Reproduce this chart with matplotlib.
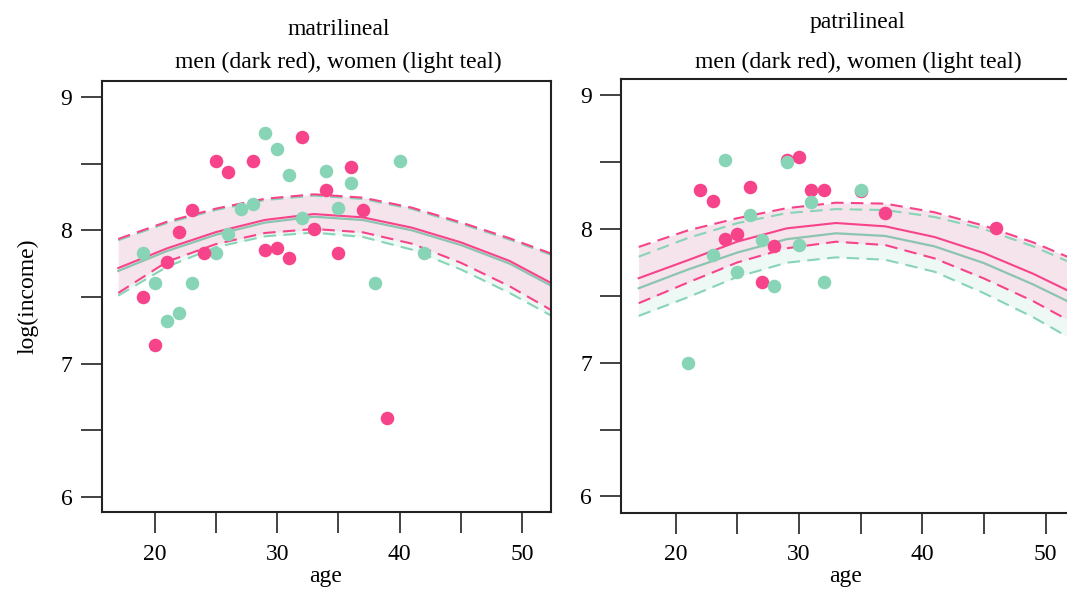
import matplotlib
matplotlib.use("Agg")
import matplotlib.pyplot as plt

plt.rcParams['font.family'] = ['Liberation Serif', 'DejaVu Serif']

# ---------------- data ----------------
# matrilineal: observed points
mat_men_age = [19, 20, 21, 22, 23, 24, 25, 26, 28, 29, 30, 31, 32, 33, 34, 35, 36, 37, 39]
mat_men_inc = [7.50, 7.14, 7.765, 7.99, 8.155, 7.83, 8.52, 8.44, 8.52, 7.855, 7.87, 7.79,
               8.70, 8.012, 8.305, 7.83, 8.472, 8.155, 6.59]
mat_wom_age = [19, 20, 21, 22, 23, 25, 26, 27, 28, 29, 30, 31, 32, 34, 35, 36, 38, 40, 42]
mat_wom_inc = [7.83, 7.607, 7.317, 7.382, 7.607, 7.83, 7.975, 8.162, 8.195, 8.732, 8.612,
               8.412, 8.092, 8.447, 8.165, 8.355, 7.607, 8.52, 7.83]

# patrilineal: observed points
pat_men_age = [22, 23, 24, 25, 26, 27, 28, 29, 30, 31, 32, 35, 37, 46]
pat_men_inc = [8.293, 8.211, 7.925, 7.963, 8.311, 7.601, 7.875, 8.518, 8.537, 8.293,
               8.293, 8.281, 8.117, 8.007]
pat_wom_age = [21, 23, 24, 25, 26, 27, 28, 29, 30, 31, 32, 35]
pat_wom_inc = [7.0, 7.803, 8.518, 7.676, 8.107, 7.92, 7.577, 8.498, 7.883, 8.199, 7.601, 8.293]

# fitted curves (mean and interval bounds) read at these ages
fit_age = [17, 21, 25, 29, 33, 37, 41, 45, 49, 53]

mat_men_mean = [7.717, 7.865, 7.987, 8.078, 8.122, 8.097, 8.02, 7.91, 7.77, 7.575]
mat_men_hi = [7.935, 8.065, 8.163, 8.237, 8.270, 8.245, 8.17, 8.06, 7.94, 7.805]
mat_men_lo = [7.530, 7.765, 7.897, 7.980, 8.010, 7.985, 7.90, 7.757, 7.58, 7.37]
mat_wom_mean = [7.695, 7.845, 7.967, 8.058, 8.102, 8.077, 8.0, 7.89, 7.75, 7.555]
mat_wom_hi = [7.925, 8.055, 8.153, 8.227, 8.260, 8.235, 8.16, 8.05, 7.93, 7.795]
mat_wom_lo = [7.510, 7.727, 7.874, 7.955, 7.983, 7.950, 7.855, 7.707, 7.53, 7.33]

pat_men_mean = [7.632, 7.767, 7.906, 8.005, 8.045, 8.02, 7.94, 7.82, 7.665, 7.486]
pat_men_hi = [7.866, 7.990, 8.081, 8.156, 8.197, 8.19, 8.125, 8.025, 7.90, 7.745]
pat_men_lo = [7.445, 7.600, 7.750, 7.856, 7.905, 7.88, 7.78, 7.63, 7.46, 7.26]
pat_wom_mean = [7.557, 7.697, 7.824, 7.924, 7.968, 7.948, 7.87, 7.745, 7.585, 7.405]
pat_wom_hi = [7.793, 7.933, 8.044, 8.119, 8.149, 8.142, 8.09, 8.0, 7.87, 7.71]
pat_wom_lo = [7.350, 7.490, 7.642, 7.748, 7.788, 7.77, 7.68, 7.52, 7.34, 7.13]

titles = ["matrilineal", "patrilineal"]
subtitle = "men (dark red), women (light teal)"
xticks = [20, 25, 30, 35, 40, 45, 50]
xticklabels = ["20", "", "30", "", "40", "", "50"]
yticks = [6, 6.5, 7, 7.5, 8, 8.5, 9]
yticklabels = ["6", "", "7", "", "8", "", "9"]

# ---------------- style ----------------
PINK = '#F7438A'
TEAL = '#88D4B6'
TEAL_LINE = '#8CC4B0'
PINK_FILL = '#F5E4EC'
TEAL_FILL = '#EEF8F4'
FS = 17

W, H = 1067, 589
fig = plt.figure(figsize=(W / 100, H / 100), dpi=100)

panels = [
    dict(rect=[101.5 / W, 77 / H, 449 / W, 431 / H], xlim=(15.63, 52.34), ylim=(5.887, 9.12),
         men=(mat_men_age, mat_men_inc), wom=(mat_wom_age, mat_wom_inc),
         mm=mat_men_mean, mh=mat_men_hi, ml=mat_men_lo,
         wm=mat_wom_mean, wh=mat_wom_hi, wl=mat_wom_lo,
         title=titles[0], title_y=H - 35, women_on_top=False, ylabel=True),
    dict(rect=[621 / W, 76.5 / H, 449 / W, 433.5 / H], xlim=(15.564, 51.98), ylim=(5.879, 9.1225),
         men=(pat_men_age, pat_men_inc), wom=(pat_wom_age, pat_wom_inc),
         mm=pat_men_mean, mh=pat_men_hi, ml=pat_men_lo,
         wm=pat_wom_mean, wh=pat_wom_hi, wl=pat_wom_lo,
         title=titles[1], title_y=H - 28, women_on_top=True, ylabel=False),
]

dash = (0, (6, 3.5))
for p in panels:
    ax = fig.add_axes(p['rect'])
    ax.set_xlim(*p['xlim'])
    ax.set_ylim(*p['ylim'])
    ax.fill_between(fit_age, p['wl'], p['wh'], color=TEAL_FILL, lw=0, zorder=1)
    ax.fill_between(fit_age, p['ml'], p['mh'], color=PINK_FILL, lw=0, zorder=1.1)
    ax.plot(fit_age, p['wh'], color=TEAL, lw=1.5, ls=dash, zorder=2)
    ax.plot(fit_age, p['wl'], color=TEAL, lw=1.5, ls=dash, zorder=2)
    ax.plot(fit_age, p['mh'], color=PINK, lw=1.5, ls=dash, zorder=2.1)
    ax.plot(fit_age, p['ml'], color=PINK, lw=1.5, ls=dash, zorder=2.1)
    ax.plot(fit_age, p['wm'], color=TEAL_LINE, lw=1.6, zorder=2.2)
    ax.plot(fit_age, p['mm'], color=PINK, lw=1.5, zorder=2.3)
    zm, zw = (3, 4) if p['women_on_top'] else (4, 3)
    ax.scatter(*p['men'], s=95, color=PINK, lw=0, zorder=zm)
    ax.scatter(*p['wom'], s=95, color=TEAL, lw=0, zorder=zw)

    ax.set_xticks(xticks)
    ax.set_xticklabels(xticklabels)
    ax.set_yticks(yticks)
    ax.set_yticklabels(yticklabels)
    ax.tick_params(axis='both', direction='out', length=15, width=1.2, color='#222222',
                   labelsize=FS, labelcolor='black')
    ax.tick_params(axis='x', pad=8)
    ax.tick_params(axis='y', pad=6)
    for s in ax.spines.values():
        s.set_linewidth(1.5)
        s.set_color('#222222')
    ax.set_xlabel('age', fontsize=FS, labelpad=0.5)
    if p['ylabel']:
        ax.set_ylabel('log(income)', fontsize=FS, labelpad=16)
    cx = p['rect'][0] + 237 / W
    fig.text(cx, p['title_y'] / H, p['title'], ha='center', va='baseline', fontsize=FS)
    fig.text(cx, (H - 68) / H, subtitle, ha='center', va='baseline', fontsize=FS)

fig.savefig('out.png', dpi=100)
